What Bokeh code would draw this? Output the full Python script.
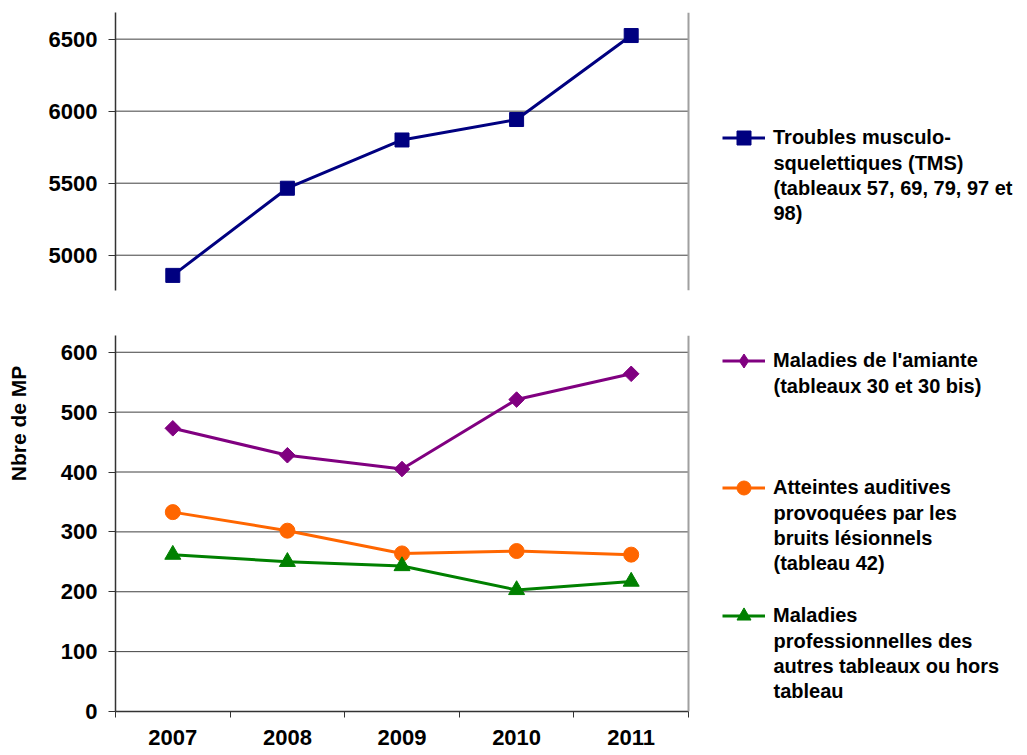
import math
from bokeh.plotting import figure
from bokeh.models import (Range1d, FixedTicker, Legend, LegendItem, Span, Label)
from bokeh.layouts import column, row
from bokeh.embed import file_html
from bokeh.resources import INLINE

years = ["2007", "2008", "2009", "2010", "2011"]
tms = [4860, 5465, 5800, 5942, 6525]
amiante = [473, 428, 405, 521, 564]
auditives = [333, 302, 264, 268, 262]
autres = [262, 250, 243, 203, 217]

top_ticks = [5000, 5500, 6000, 6500]
bottom_ticks = [0, 100, 200, 300, 400, 500, 600]
y_title = "Nbre de MP"

# legend texts, one entry per displayed line
lines_tms = ["Troubles musculo-", "squelettiques (TMS)", "(tableaux 57, 69, 79, 97 et", "98)"]
lines_amiante = ["Maladies de l'amiante", "(tableaux 30 et 30 bis)"]
lines_auditives = ["Atteintes auditives", "provoquées par les", "bruits lésionnels", "(tableau 42)"]
lines_autres = ["Maladies", "professionnelles des", "autres tableaux ou hors", "tableau"]

FONT = "Liberation Sans"
W = 1020
LEFT = 115
TITLE_W = 35          # strip holding the rotated y title
PLOT_W = 573          # pixel width of the category area
FRAME_W = W - LEFT
n = len(years)
xs = [i + 0.5 for i in range(n)]
x_end = n * FRAME_W / PLOT_W

KEY_X = 607           # legend key start, px from frame left
TEXT_X = 658          # legend text start, px from frame left
LINE_STEP = 25
GLYPH_H = 35
TOP_H = 312
BOT_H = 443

def style_yaxis(ax):
    ax.axis_line_color = "#333333"
    ax.axis_line_width = 1.5
    ax.major_tick_line_color = "#333333"
    ax.major_tick_out = 7
    ax.major_tick_in = 0
    ax.minor_tick_line_color = None
    ax.major_label_text_font = FONT
    ax.major_label_text_font_style = "bold"
    ax.major_label_text_font_size = "22px"
    ax.major_label_text_color = "#000000"
    ax.major_label_standoff = 11

def frame_decor(p, ticks):
    p.outline_line_color = None
    p.xgrid.visible = False
    p.ygrid.visible = False
    p.segment(x0=0, x1=n, y0=ticks, y1=ticks, line_color="#404040", line_width=1)
    p.add_layout(Span(location=n, dimension="height", line_color="#a0a0a0", line_width=2))

def add_entry(p, renderers, lines, first_center_from_bottom):
    """Legend key + first line via Legend, continuation lines via Labels."""
    lg = Legend(items=[LegendItem(label=lines[0], renderers=renderers)],
                location=(KEY_X, first_center_from_bottom - GLYPH_H / 2))
    lg.border_line_color = None
    lg.background_fill_alpha = 0
    lg.inactive_fill_alpha = 0
    lg.padding = 0
    lg.margin = 0
    lg.spacing = 0
    lg.glyph_width = 43
    lg.glyph_height = GLYPH_H
    lg.label_standoff = 8
    lg.label_text_font = FONT
    lg.label_text_font_style = "bold"
    lg.label_text_font_size = "20px"
    lg.label_text_color = "#000000"
    p.add_layout(lg)
    for k, txt in enumerate(lines[1:], start=1):
        p.add_layout(Label(x=TEXT_X, y=first_center_from_bottom - k * LINE_STEP,
                           x_units="screen", y_units="screen", text=txt,
                           text_align="left", text_baseline="middle",
                           text_font=FONT, text_font_style="bold",
                           text_font_size="20px", text_color="#000000"))

# ---------- top figure ----------
top = figure(width=W, height=TOP_H, output_backend="svg", toolbar_location=None,
             x_range=Range1d(0, x_end), y_range=Range1d(4755, 6685),
             x_axis_location=None, min_border_left=LEFT, min_border_right=0,
             min_border_top=12, min_border_bottom=22)
frame_decor(top, top_ticks)
top.yaxis.ticker = FixedTicker(ticks=top_ticks)
style_yaxis(top.yaxis[0])

l_tms = top.line(xs, tms, line_color="#000080", line_width=3)
s_tms = top.scatter(xs, tms, marker="square", size=14, fill_color="#000080", line_color="#000080")
add_entry(top, [l_tms, s_tms], lines_tms, 153)

# ---------- strip with the y-axis title ----------
tstrip = figure(width=TITLE_W, height=BOT_H, output_backend="svg", toolbar_location=None,
                x_axis_location=None, y_axis_location=None,
                min_border_left=0, min_border_right=0, min_border_top=0, min_border_bottom=0,
                x_range=Range1d(0, 1), y_range=Range1d(0, 1))
tstrip.outline_line_color = None
tstrip.grid.visible = False
tstrip.add_layout(Label(x=TITLE_W / 2, y=288, x_units="screen", y_units="screen",
                        text=y_title, angle=math.pi / 2, text_align="center",
                        text_baseline="middle", text_font=FONT, text_font_style="bold",
                        text_font_size="21px", text_color="#000000"))

# ---------- bottom figure ----------
bot = figure(width=W - TITLE_W, height=BOT_H, output_backend="svg", toolbar_location=None,
             x_range=Range1d(0, x_end), y_range=Range1d(0, 628),
             min_border_left=LEFT - TITLE_W, min_border_right=0,
             min_border_top=23, min_border_bottom=44)
frame_decor(bot, bottom_ticks)
bot.yaxis.ticker = FixedTicker(ticks=bottom_ticks)
style_yaxis(bot.yaxis[0])

xa = bot.xaxis[0]
xa.bounds = (0, n)
xa.ticker = FixedTicker(ticks=xs, minor_ticks=list(range(n + 1)))
xa.major_label_overrides = {x: y for x, y in zip(xs, years)}
xa.axis_line_color = "#333333"
xa.axis_line_width = 1.5
xa.major_tick_line_color = None
xa.major_tick_out = 6
xa.minor_tick_line_color = "#333333"
xa.minor_tick_out = 6
xa.minor_tick_in = 0
xa.major_label_text_font = FONT
xa.major_label_text_font_style = "bold"
xa.major_label_text_font_size = "22px"
xa.major_label_text_color = "#000000"
xa.major_label_standoff = 12

l_am = bot.line(xs, amiante, line_color="#800080", line_width=3)
s_am = bot.scatter(xs, amiante, marker="square", angle=math.pi / 4, size=11,
                   fill_color="#800080", line_color="#800080")
# diamond used only for the legend key (the plotted one is a rotated square)
s_am_key = bot.scatter(xs, amiante, marker="diamond", size=18, fill_color="#800080",
                       line_color="#800080", visible=False)
l_au = bot.line(xs, auditives, line_color="#FF6600", line_width=3)
s_au = bot.scatter(xs, auditives, marker="circle", size=15, fill_color="#FF6600", line_color="#FF6600")
l_ot = bot.line(xs, autres, line_color="#008000", line_width=3)
s_ot = bot.scatter(xs, autres, marker="triangle", size=16, fill_color="#008000", line_color="#008000")

add_entry(bot, [l_am, s_am_key], lines_amiante, 351)
add_entry(bot, [l_au, s_au], lines_auditives, 224)
add_entry(bot, [l_ot, s_ot], lines_autres, 96)

layout = column(top, row(tstrip, bot, spacing=0), spacing=0)
open("out.html", "w").write(file_html(layout, INLINE))
